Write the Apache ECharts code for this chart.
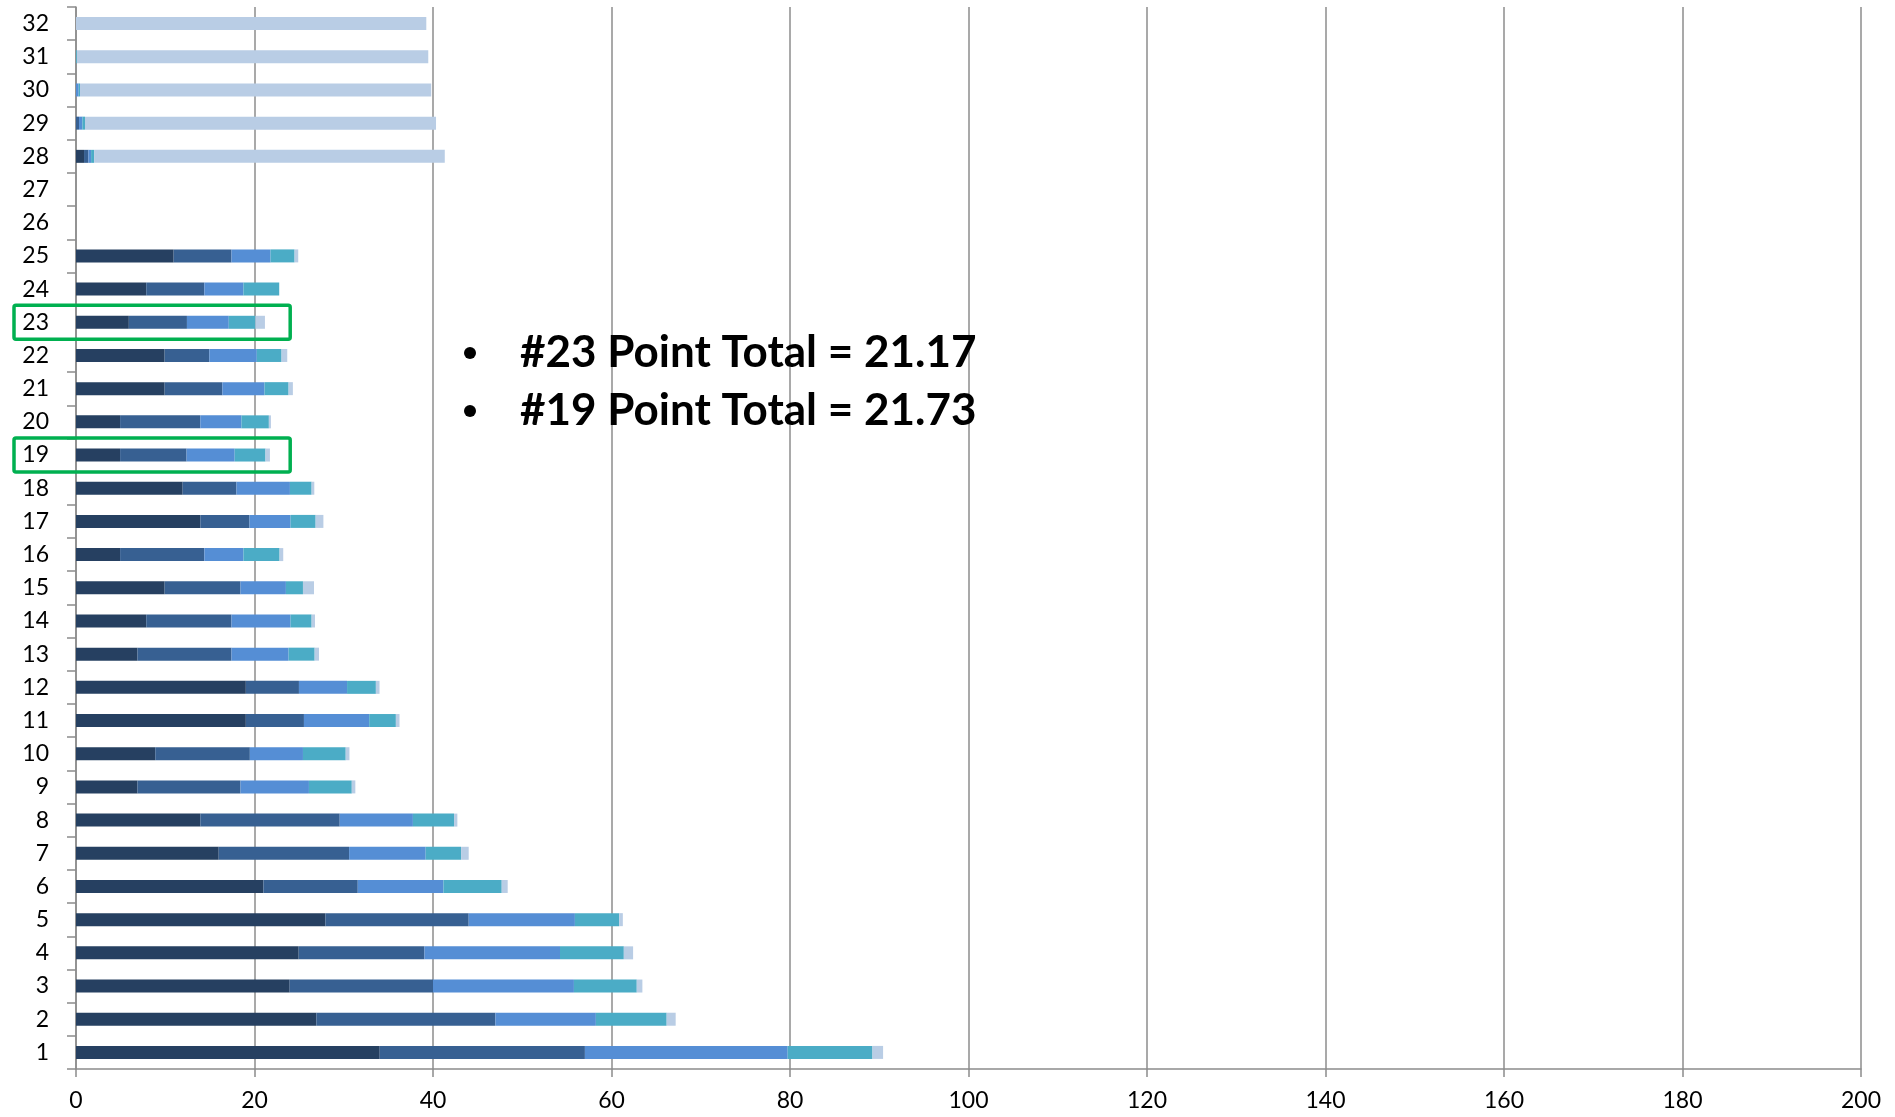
<!DOCTYPE html>
<html>
<head>
<meta charset="utf-8">
<script src="https://cdn.jsdelivr.net/npm/echarts@6/dist/echarts.min.js"></script>
<style>
html,body{margin:0;padding:0;background:#fff;}
#c{width:1895px;height:1117px;}
</style>
</head>
<body>
<div id="c"></div>
<script>
// Categories (bottom to top)
const categories = ['1','2','3','4','5','6','7','8','9','10','11','12','13','14','15','16','17','18','19','20','21','22','23','24','25','26','27','28','29','30','31','32'];
// Series values, one entry per category
const seriesA = [34.03,26.93,23.94,24.95,27.94,21.0,15.99,13.93,6.89,8.88,19.03,19.03,6.89,7.87,9.93,4.94,13.93,11.95,4.94,4.94,9.93,9.93,5.92,7.87,10.94,0,0,0.9,0,0,0,0];
const seriesB = [22.99,20.06,16.06,14.09,16.06,10.57,14.61,15.62,11.54,10.6,6.51,5.95,10.53,9.55,8.5,9.44,5.51,6.03,7.45,8.99,6.47,5.01,6.51,6.51,6.48,0,0,0.49,0.34,0,0,0];
const seriesC = [22.72,11.26,15.79,15.19,11.9,9.6,8.58,8.2,7.67,5.95,7.31,5.39,6.4,6.62,5.09,4.38,4.6,5.99,5.39,4.61,4.72,5.32,4.69,4.38,4.38,0,0,0.3,0.37,0.3,0,0];
const seriesD = [9.5,7.93,7.04,7.15,4.96,6.53,3.97,4.61,4.8,4.79,2.99,3.23,2.92,2.36,1.91,4.05,2.81,2.43,3.45,3.07,2.7,2.77,2.99,4.01,2.69,0,0,0.34,0.3,0.15,0.1,0];
const seriesE = [1.19,1.01,0.63,1.04,0.41,0.67,0.85,0.37,0.4,0.42,0.41,0.41,0.49,0.38,1.24,0.41,0.87,0.3,0.5,0.23,0.48,0.64,1.06,0,0.41,0,0,39.29,39.33,39.35,39.37,39.25];
const xTicks = [0,20,40,60,80,100,120,140,160,180,200];
const notes = ['#23 Point Total = 21.17', '#19 Point Total = 21.73'];
const highlighted = ['23', '19'];

const colors = ['#264061', '#376092', '#558ED5', '#4BACC6', '#B9CDE5'];
const allSeries = [seriesA, seriesB, seriesC, seriesD, seriesE];

const chart = echarts.init(document.getElementById('c'), null, {renderer: 'canvas'});
const axisColor = '#8c8c8c';
const fontFam = 'Lato, "Open Sans", sans-serif';

chart.setOption({
  animation: false,
  grid: {left: 76, right: 34, top: 7, bottom: 48, containLabel: false},
  xAxis: {
    type: 'value', min: xTicks[0], max: xTicks[xTicks.length - 1], interval: 20,
    axisLine: {show: true, lineStyle: {color: axisColor, width: 1.5}},
    axisTick: {show: true, length: 8, lineStyle: {color: axisColor, width: 1.5}},
    axisLabel: {color: '#000', fontSize: 23, fontFamily: fontFam, margin: 20},
    splitLine: {show: true, lineStyle: {color: axisColor, width: 1.5}}
  },
  yAxis: {
    type: 'category', data: categories,
    axisLine: {show: true, lineStyle: {color: axisColor, width: 1.5}},
    axisTick: {show: true, length: 9, alignWithLabel: false, lineStyle: {color: axisColor, width: 1.5}},
    axisLabel: {color: '#000', fontSize: 23, fontFamily: fontFam, margin: 27},
    splitLine: {show: false}
  },
  series: allSeries.map((d, i) => ({
    name: 'Series' + (i + 1),
    type: 'bar', stack: 'total', data: d,
    barWidth: 13,
    itemStyle: {color: colors[i], borderWidth: 0},
    z: 3
  }))
});

function drawAnnotations() {
  const g = [];
  const gridLeft = chart.convertToPixel({xAxisIndex: 0}, 0);
  const rightX = chart.convertToPixel({xAxisIndex: 0}, 24);
  highlighted.forEach(cat => {
    const cy = chart.convertToPixel({yAxisIndex: 0}, cat);
    g.push({
      type: 'rect',
      shape: {x: gridLeft - 62, y: cy - 17, width: rightX - (gridLeft - 62), height: 34, r: 2},
      style: {fill: 'none', stroke: '#00B050', lineWidth: 3.5},
      z: 10
    });
  });
  notes.forEach((t, i) => {
    const y = 353 + i * 58;
    g.push({type: 'circle', shape: {cx: 470, cy: y, r: 6}, style: {fill: '#000'}, z: 10});
    g.push({
      type: 'text', x: 520, y: y,
      style: {text: t, fill: '#000', font: 'bold 44px ' + fontFam, textVerticalAlign: 'middle', textAlign: 'left'},
      z: 10
    });
  });
  chart.setOption({graphic: g});
}
drawAnnotations();
</script>
</body>
</html>
